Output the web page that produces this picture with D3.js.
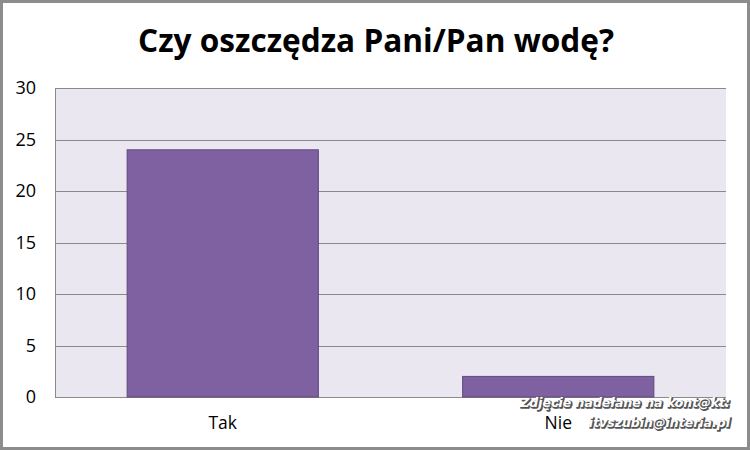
<!DOCTYPE html>
<html><head><meta charset="utf-8">
<script src="https://cdn.jsdelivr.net/npm/d3@7"></script>
<style>html,body{margin:0;padding:0;background:#fff;}svg{display:block;}</style>
</head><body>
<svg id="c" width="750" height="450"></svg>
<script>
const categories = ["Tak", "Nie"];
const values = [24, 2];
const yTicks = [0, 5, 10, 15, 20, 25, 30];
const title = "Czy oszczędza Pani/Pan wodę?";
const watermark = ["Zdjęcie nadełane na kont@kt:", "itvszubin@interia.pl"];

const svg = d3.select("#c");
const W = 750, H = 450;
const m = {left: 55, right: 24, top: 88, bottom: 53};
const pw = W - m.left - m.right, ph = H - m.top - m.bottom;

// outer frame
svg.append("rect").attr("x", 1.5).attr("y", 1.5).attr("width", W - 3).attr("height", H - 3)
  .attr("fill", "#fff").attr("stroke", "#8c8c8c").attr("stroke-width", 3);

const x = d3.scaleBand().domain(categories).range([m.left, m.left + pw]).paddingInner(0.43).paddingOuter(0.215);
const y = d3.scaleLinear().domain([0, 30]).range([m.top + ph, m.top]);

svg.append("rect").attr("x", m.left).attr("y", m.top).attr("width", pw).attr("height", ph)
  .attr("fill", "#ebe7f0");

// gridlines
svg.append("g").selectAll("line").data(yTicks).join("line")
  .attr("x1", m.left).attr("x2", m.left + pw)
  .attr("y1", d => Math.round(y(d)) + 0.5).attr("y2", d => Math.round(y(d)) + 0.5)
  .attr("stroke", "#8a8a8a").attr("stroke-width", 1);
// left axis line
svg.append("line").attr("x1", m.left + 0.5).attr("x2", m.left + 0.5).attr("y1", m.top).attr("y2", m.top + ph)
  .attr("stroke", "#8a8a8a");

// y axis labels
const yAxis = d3.axisLeft(y).tickValues(yTicks).tickSize(0).tickPadding(19);
const ga = svg.append("g").attr("transform", `translate(${m.left},0)`).call(yAxis);
ga.select(".domain").remove();
ga.selectAll("text").attr("font-family", "'Open Sans', 'Noto Sans', sans-serif").attr("font-size", 18).attr("fill", "#000");

// bars
svg.append("g").selectAll("rect").data(values).join("rect")
  .attr("x", (d, i) => x(categories[i]))
  .attr("width", x.bandwidth())
  .attr("y", d => y(d))
  .attr("height", d => y(0) - y(d))
  .attr("fill", "#7f60a0").attr("stroke", "#5f4a80").attr("stroke-width", 1);

// x axis labels
const xAxis = d3.axisBottom(x).tickSize(0).tickPadding(20);
const gx = svg.append("g").attr("transform", `translate(0,${m.top + ph})`).call(xAxis);
gx.select(".domain").remove();
gx.selectAll("text").attr("font-family", "'Open Sans', 'Noto Sans', sans-serif").attr("font-size", 17.5).attr("fill", "#000");

// title
svg.append("text").attr("x", 376).attr("y", 52).attr("text-anchor", "middle")
  .attr("font-family", "'Open Sans', 'Noto Sans', sans-serif").attr("font-weight", "bold")
  .attr("font-size", 33).attr("textLength", 476).attr("lengthAdjust", "spacingAndGlyphs")
  .attr("fill", "#000").text(title);

// watermark
const wm = svg.append("g").attr("font-family", "'DejaVu Sans', sans-serif").attr("font-style", "italic")
  .attr("font-weight", "bold").attr("font-size", 12.5).attr("text-anchor", "end");
const wmY = [407, 427];
watermark.forEach((t, i) => {
  wm.append("text").attr("x", 731).attr("y", wmY[i] + 1).attr("fill", "#333").text(t)
    .attr("stroke", "#555").attr("stroke-width", 1.6).attr("stroke-linejoin", "round");
  wm.append("text").attr("x", 730).attr("y", wmY[i]).attr("fill", "#fff").text(t);
});
</script>
</body></html>
